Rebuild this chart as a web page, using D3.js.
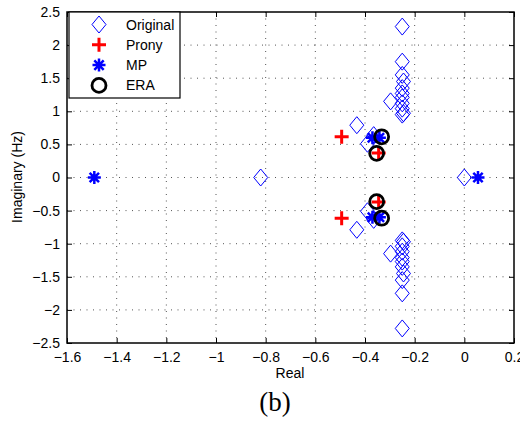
<!DOCTYPE html>
<html>
<head>
<meta charset="utf-8">
<script src="https://cdn.jsdelivr.net/npm/d3@7"></script>
<style>
  body { margin: 0; background: #fff; }
  text { font-family: "Liberation Sans", Arial, sans-serif; }
</style>
</head>
<body>
<div id="chart"></div>
<script>
// data (real, imaginary in Hz)
var originalRe = [-0.25, -0.25, -0.25, -0.245, -0.25, -0.25, -0.25, -0.25, -0.25, -0.245, -0.25, -0.297, -0.433, -0.39, -0.365, -0.82, 0];
var originalIm = [2.28, 1.75, 1.55, 1.45, 1.35, 1.27, 1.21, 1.12, 1.04, 0.97, 0.95, 1.15, 0.79, 0.51, 0.64, 0, 0];
var pronyRe = [-0.494, -0.345];
var pronyIm = [0.615, 0.37];
var mpRe = [-1.49, 0.055, -0.37, -0.342];
var mpIm = [0, 0, 0.6, 0.6];
var eraRe = [-0.333, -0.353];
var eraIm = [0.615, 0.365];
var xTicks = [-1.6, -1.4, -1.2, -1, -0.8, -0.6, -0.4, -0.2, 0, 0.2];
var yTicks = [-2.5, -2, -1.5, -1, -0.5, 0, 0.5, 1, 1.5, 2, 2.5];

// complex conjugate pairs: mirror every non-real point
function pairs(re, im) {
  var out = [];
  re.forEach(function(r, i) {
    out.push({x: r, y: im[i]});
    if (im[i] !== 0) out.push({x: r, y: -im[i]});
  });
  return out;
}

var W = 520, H = 422;
var pLeft = 67, pRight = 514, pTop = 12, pBottom = 343;

var x = d3.scaleLinear().domain([-1.6, 0.2]).range([pLeft, pRight]);
var y = d3.scaleLinear().domain([-2.5, 2.5]).range([pBottom, pTop]);

var svg = d3.select("#chart").append("svg")
  .attr("width", W).attr("height", H);

function fmt(d) { return d3.format("")(d).replace("-", "\u2212"); }

// grid
svg.append("g").selectAll("line").data(xTicks.slice(1, -1)).enter().append("line")
  .attr("x1", function(d){ return x(d); }).attr("x2", function(d){ return x(d); })
  .attr("y1", pTop).attr("y2", pBottom)
  .attr("stroke", "#555").attr("stroke-width", 1).attr("stroke-dasharray", "1,5.5");
svg.append("g").selectAll("line").data(yTicks.slice(1, -1)).enter().append("line")
  .attr("y1", function(d){ return y(d); }).attr("y2", function(d){ return y(d); })
  .attr("x1", pLeft).attr("x2", pRight)
  .attr("stroke", "#555").attr("stroke-width", 1).attr("stroke-dasharray", "1,5.5");

// axes with inward ticks
var xAxis = svg.append("g").attr("transform", "translate(0," + pBottom + ")")
  .call(d3.axisBottom(x).tickValues(xTicks).tickSize(-5).tickPadding(9).tickFormat(fmt));
var xTop = svg.append("g").attr("transform", "translate(0," + pTop + ")")
  .call(d3.axisTop(x).tickValues(xTicks).tickSize(-5).tickFormat(""));
var yAxis = svg.append("g").attr("transform", "translate(" + pLeft + ",0)")
  .call(d3.axisLeft(y).tickValues(yTicks).tickSize(-5).tickPadding(7).tickFormat(fmt));
var yRight = svg.append("g").attr("transform", "translate(" + pRight + ",0)")
  .call(d3.axisRight(y).tickValues(yTicks).tickSize(-5).tickFormat(""));
[xAxis, xTop, yAxis, yRight].forEach(function(a) {
  a.select(".domain").remove();
  a.selectAll("line").attr("stroke", "#000");
  a.selectAll("text").attr("font-size", 14).attr("fill", "#000")
    .style("font-family", "Liberation Sans, Arial, sans-serif");
});

svg.append("rect")
  .attr("x", pLeft).attr("y", pTop).attr("width", pRight - pLeft).attr("height", pBottom - pTop)
  .attr("fill", "none").attr("stroke", "#000").attr("stroke-width", 1.5);

// marker shapes
function diamond(g, cx, cy) {
  g.append("path")
    .attr("d", "M" + cx + "," + (cy - 8.5) + "L" + (cx + 7) + "," + cy + "L" + cx + "," + (cy + 8.5) + "L" + (cx - 7) + "," + cy + "Z")
    .attr("fill", "none").attr("stroke", "#0000ff").attr("stroke-width", 1);
}
function plus(g, cx, cy) {
  g.append("path")
    .attr("d", "M" + (cx - 7) + "," + cy + "H" + (cx + 7) + "M" + cx + "," + (cy - 7) + "V" + (cy + 7))
    .attr("stroke", "#ff0000").attr("stroke-width", 3);
}
function star(g, cx, cy) {
  var r = 6.5, d = r * 0.72;
  g.append("path")
    .attr("d", "M" + (cx - r) + "," + cy + "H" + (cx + r) + "M" + cx + "," + (cy - r) + "V" + (cy + r) +
      "M" + (cx - d) + "," + (cy - d) + "L" + (cx + d) + "," + (cy + d) +
      "M" + (cx - d) + "," + (cy + d) + "L" + (cx + d) + "," + (cy - d))
    .attr("stroke", "#0000ff").attr("stroke-width", 2.5);
}
function ring(g, cx, cy) {
  g.append("circle").attr("cx", cx).attr("cy", cy).attr("r", 7)
    .attr("fill", "none").attr("stroke", "#000").attr("stroke-width", 2.8);
}

var marks = svg.append("g");
pairs(originalRe, originalIm).forEach(function(p){ diamond(marks, x(p.x), y(p.y)); });
pairs(pronyRe, pronyIm).forEach(function(p){ plus(marks, x(p.x), y(p.y)); });
pairs(mpRe, mpIm).forEach(function(p){ star(marks, x(p.x), y(p.y)); });
pairs(eraRe, eraIm).forEach(function(p){ ring(marks, x(p.x), y(p.y)); });

// legend
var lg = svg.append("g");
lg.append("rect").attr("x", 69).attr("y", 12).attr("width", 111).attr("height", 86)
  .attr("fill", "#fff").attr("stroke", "#000").attr("stroke-width", 1.2);
var names = ["Original", "Prony", "MP", "ERA"];
var drawers = [diamond, plus, star, ring];
names.forEach(function(n, i) {
  var cy = 24.5 + i * 20.3;
  drawers[i](lg, 99, cy);
  lg.append("text").attr("x", 126).attr("y", cy + 5).attr("font-size", 14).text(n);
});

// labels
svg.append("text").attr("x", 290).attr("y", 378).attr("text-anchor", "middle")
  .attr("font-size", 14).text("Real");
svg.append("text").attr("transform", "translate(22,177) rotate(-90)")
  .attr("text-anchor", "middle").attr("font-size", 14).text("Imaginary (Hz)");
svg.append("text").attr("x", 275).attr("y", 411).attr("text-anchor", "middle")
  .attr("font-size", 27).style("font-family", "Liberation Serif, serif").text("(b)");
</script>
</body>
</html>
